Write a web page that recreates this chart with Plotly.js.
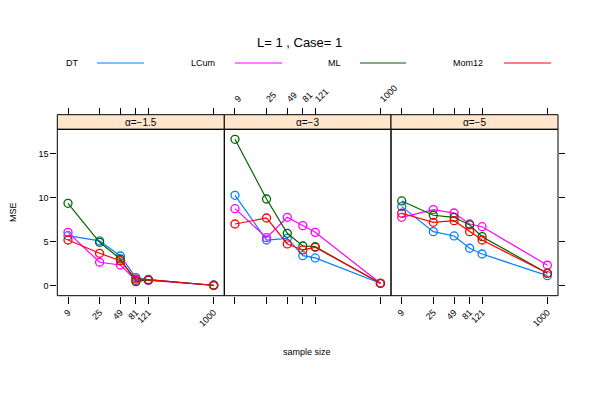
<!DOCTYPE html>
<html>
<head>
<meta charset="utf-8">
<script src="https://cdn.plot.ly/plotly-3.0.1.min.js"></script>
<style>html,body{margin:0;padding:0;background:#fff;}#chart{width:598px;height:399px;}</style>
</head>
<body>
<div id="chart"></div>
<script>
// ---- data ----
var sampleSize = [9, 25, 49, 81, 121, 1000];
var tickLabels = ['9', '25', '49', '81', '121', '1000'];
var panelLabels = ['α=−1.5', 'α=−3', 'α=−5'];
var methods = ['DT', 'LCum', 'ML', 'Mom12'];
var methodColors = ['#0080ff', '#ff00ff', '#006400', '#ff0000'];

// MSE per panel (alpha = -1.5, -3, -5)
var mseDT = [
  [5.68, 5.10, 3.37, 0.91, 0.70, 0.05],
  [10.27, 5.19, 5.38, 3.41, 3.15, 0.27],
  [8.98, 6.14, 5.65, 4.25, 3.60, 1.14]
];
var mseLCum = [
  [6.06, 2.66, 2.35, 0.60, 0.60, 0.05],
  [8.75, 5.45, 7.77, 6.82, 6.06, 0.27],
  [7.77, 8.64, 8.26, 7.01, 6.70, 2.32]
];
var mseML = [
  [9.36, 4.93, 3.03, 0.46, 0.65, 0.05],
  [16.63, 9.85, 5.95, 4.51, 4.43, 0.27],
  [9.63, 8.00, 7.77, 6.90, 5.57, 1.41]
];
var mseMom12 = [
  [5.19, 3.68, 2.84, 0.75, 0.68, 0.02],
  [7.01, 7.69, 4.74, 4.06, 4.36, 0.27],
  [8.23, 7.20, 7.39, 6.14, 5.19, 1.41]
];
var mseAll = [mseDT, mseLCum, mseML, mseMom12];

// ---- layout geometry (paper fractions) ----
var W = 598, H = 399;
function px(x) { return x / W; }
function py(y) { return 1 - y / H; }
var panelX = [[57.3, 224.3], [224.3, 391], [391, 558]];
var panelTop = 129.3, panelBottom = 295.7, stripTop = 114.7;
var xRange = [Math.log10(9) - 10.7 / 71.2, 3 + 10.6 / 71.2];
var yRange = [-1.14, 17.77];
var FONT = 'Liberation Sans, Arial, Helvetica, sans-serif';

var traces = [];
for (var p = 0; p < 3; p++) {
  for (var m = 0; m < methods.length; m++) {
    traces.push({
      type: 'scatter', mode: 'lines+markers',
      x: sampleSize, y: mseAll[m][p],
      name: methods[m], showlegend: false,
      xaxis: p === 0 ? 'x' : 'x' + (p + 1),
      yaxis: p === 0 ? 'y' : 'y' + (p + 1),
      line: {color: methodColors[m], width: 1.2},
      marker: {symbol: 'circle-open', size: 8, color: methodColors[m], line: {width: 1.3, color: methodColors[m]}},
      cliponaxis: false
    });
  }
}

function xAxisBase(dom) {
  return {
    domain: [px(dom[0]), px(dom[1])], type: 'log', range: xRange,
    tickmode: 'array', tickvals: sampleSize, ticktext: tickLabels,
    tickangle: -45, ticks: 'outside', ticklen: 7, tickcolor: '#000', tickwidth: 1,
    showgrid: false, zeroline: false, showline: false, fixedrange: true,
    tickfont: {family: FONT, size: 9, color: '#000'}, automargin: false
  };
}

var layout = {
  width: W, height: H,
  margin: {l: 0, r: 0, t: 0, b: 0},
  paper_bgcolor: '#fff', plot_bgcolor: 'rgba(0,0,0,0)',
  font: {family: FONT, color: '#000'},
  showlegend: false,
  shapes: [], annotations: []
};

// bottom axes
for (var p = 0; p < 3; p++) {
  var ax = xAxisBase(panelX[p]);
  ax.anchor = p === 0 ? 'y' : 'y' + (p + 1);
  ax.side = 'bottom';
  ax.showticklabels = (p !== 1);
  layout[p === 0 ? 'xaxis' : 'xaxis' + (p + 1)] = ax;
}
// top axes (above strips)
for (var p = 0; p < 3; p++) {
  var ax = xAxisBase(panelX[p]);
  ax.overlaying = p === 0 ? 'x' : 'x' + (p + 1);
  ax.side = 'top';
  ax.anchor = 'free';
  ax.position = py(stripTop);
  ax.showticklabels = (p === 1);
  layout['xaxis' + (p + 4)] = ax;
}
// y axes
var yDom = [py(panelBottom), py(panelTop)];
for (var p = 0; p < 3; p++) {
  var ya = {
    domain: yDom, range: yRange,
    tickmode: 'array', tickvals: [0, 5, 10, 15], ticktext: ['0', '5', '10', '15'],
    ticks: p === 1 ? '' : 'outside', ticklen: 6, tickcolor: '#000', tickwidth: 1,
    showgrid: false, zeroline: false, showline: false, fixedrange: true,
    showticklabels: p === 0,
    tickfont: {family: FONT, size: 9, color: '#000'},
    anchor: p === 0 ? 'x' : 'x' + (p + 1),
    side: p === 2 ? 'right' : 'left', automargin: false
  };
  if (p > 0) ya.matches = 'y';
  layout[p === 0 ? 'yaxis' : 'yaxis' + (p + 1)] = ya;
}
// dummy traces so the top axes render
for (var p = 0; p < 3; p++) {
  traces.push({type: 'scatter', mode: 'markers', x: [sampleSize[0]], y: [yRange[0] - 100],
    xaxis: 'x' + (p + 4), yaxis: p === 0 ? 'y' : 'y' + (p + 1), showlegend: false,
    hoverinfo: 'skip', marker: {opacity: 0}});
}

// panel boxes and strips
for (var p = 0; p < 3; p++) {
  layout.shapes.push({type: 'rect', xref: 'paper', yref: 'paper',
    x0: px(panelX[p][0]), x1: px(panelX[p][1]), y0: py(panelBottom), y1: py(panelTop),
    line: {color: '#000', width: 1}, fillcolor: 'rgba(0,0,0,0)', layer: 'above'});
  layout.shapes.push({type: 'rect', xref: 'paper', yref: 'paper',
    x0: px(panelX[p][0]), x1: px(panelX[p][1]), y0: py(panelTop), y1: py(stripTop),
    line: {color: '#000', width: 1}, fillcolor: '#ffe5cc', layer: 'below'});
  layout.annotations.push({xref: 'paper', yref: 'paper',
    x: px((panelX[p][0] + panelX[p][1]) / 2), y: py((panelTop + stripTop) / 2),
    text: panelLabels[p], showarrow: false, xanchor: 'center', yanchor: 'middle',
    font: {family: FONT, size: 10, color: '#000'}});
}

// legend (text then line)
var legTextX = [72, 203, 334, 468];
var legLine = [[97, 144], [235, 282], [360, 406], [504, 551]];
var legY = 63;
for (var m = 0; m < methods.length; m++) {
  layout.annotations.push({xref: 'paper', yref: 'paper', x: px(legTextX[m]), y: py(legY),
    text: methods[m], showarrow: false, xanchor: 'center', yanchor: 'middle',
    font: {family: FONT, size: 9, color: '#000'}});
  layout.shapes.push({type: 'line', xref: 'paper', yref: 'paper',
    x0: px(legLine[m][0]), x1: px(legLine[m][1]), y0: py(legY), y1: py(legY),
    line: {color: methodColors[m], width: 1.2}});
}

// titles
layout.annotations.push({xref: 'paper', yref: 'paper', x: px(299), y: py(42),
  text: 'L= 1 , Case= 1', showarrow: false, xanchor: 'center', yanchor: 'middle',
  font: {family: FONT, size: 13, color: '#000'}});
layout.annotations.push({xref: 'paper', yref: 'paper', x: px(307), y: py(352),
  text: 'sample size', showarrow: false, xanchor: 'center', yanchor: 'middle',
  font: {family: FONT, size: 9, color: '#000'}});
layout.annotations.push({xref: 'paper', yref: 'paper', x: px(13), y: py(212),
  text: 'MSE', showarrow: false, xanchor: 'center', yanchor: 'middle', textangle: -90,
  font: {family: FONT, size: 9, color: '#000'}});

Plotly.newPlot('chart', traces, layout, {staticPlot: true, displayModeBar: false});
</script>
</body>
</html>
